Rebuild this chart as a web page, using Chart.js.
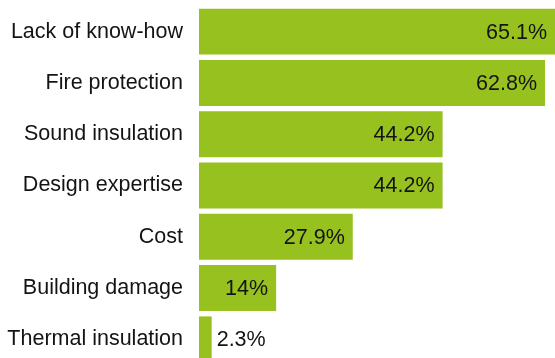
<!DOCTYPE html>
<html>
<head>
<meta charset="utf-8">
<script src="https://cdn.jsdelivr.net/npm/chart.js@4"></script>
<style>
  html, body { margin: 0; padding: 0; background: #fff; overflow: hidden; }
  #wrap { width: 555px; height: 358px; overflow: hidden; }
</style>
</head>
<body>
<div id="wrap"><canvas id="barChart" width="555" height="365"></canvas></div>
<script>
var categories = ['Lack of know-how', 'Fire protection', 'Sound insulation', 'Design expertise', 'Cost', 'Building damage', 'Thermal insulation'];
var shares = [65.1, 62.8, 44.2, 44.2, 27.9, 14, 2.3];

var FONT = '"Liberation Sans", Arial, Helvetica, sans-serif';

// value text at the end of each bar (inside when it fits, else outside)
var valueLabels = {
  id: 'valueLabels',
  afterDatasetsDraw: function (chart) {
    var ctx = chart.ctx;
    var meta = chart.getDatasetMeta(0);
    ctx.save();
    ctx.font = '21.5px ' + FONT;
    ctx.fillStyle = '#141414';
    ctx.textBaseline = 'middle';
    meta.data.forEach(function (bar, i) {
      var txt = shares[i] + '%';
      var w = ctx.measureText(txt).width;
      var barW = bar.x - bar.base;
      var x = Math.min(bar.x, chart.width);
      if (barW > w + 16) {
        ctx.textAlign = 'right';
        ctx.fillText(txt, x - 8, bar.y + 1);
      } else {
        ctx.textAlign = 'left';
        ctx.fillText(txt, x + 5, bar.y + 1);
      }
    });
    ctx.restore();
  }
};

var ctx = document.getElementById('barChart').getContext('2d');
new Chart(ctx, {
  type: 'bar',
  data: {
    labels: categories,
    datasets: [{
      data: shares,
      backgroundColor: '#96c11f',
      borderWidth: 0,
      categoryPercentage: 1,
      barPercentage: 0.895
    }]
  },
  options: {
    indexAxis: 'y',
    responsive: false,
    animation: false,
    devicePixelRatio: 1,
    layout: { padding: { top: 6, right: 0, bottom: 0, left: 0 } },
    plugins: {
      legend: { display: false },
      tooltip: { enabled: false }
    },
    scales: {
      x: {
        display: false,
        min: 0,
        max: 64.6
      },
      y: {
        grid: { display: false, drawTicks: false },
        border: { display: false },
        ticks: {
          padding: 16,
          color: '#141414',
          font: { family: FONT, size: 21.5 }
        },
        afterFit: function (scale) {
          scale.width = 199;
          scale.paddingTop = 0;
          scale.paddingBottom = 0;
        }
      }
    }
  },
  plugins: [valueLabels]
});
</script>
</body>
</html>
